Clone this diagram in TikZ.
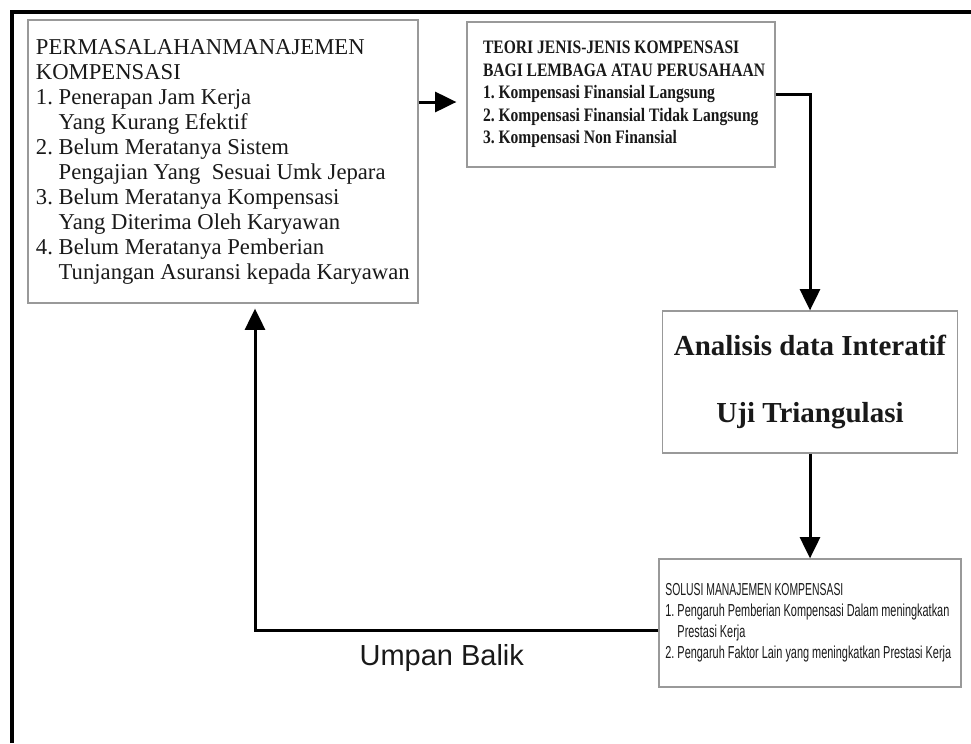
\documentclass[tikz,border=0pt]{standalone}
\usepackage{fontspec}
\setmainfont{Liberation Serif}
\newfontfamily\teorifont[FakeStretch=0.82]{Liberation Serif}
\newfontfamily\solusifont[FakeStretch=0.63]{Liberation Sans}
\newfontfamily\soluscaps[FakeStretch=0.6]{Liberation Sans}
\newfontfamily\balikfont{Liberation Sans}
\usetikzlibrary{calc}
\usetikzlibrary{arrows.meta, positioning}
\frenchspacing

\begin{document}
\begin{tikzpicture}[
  x=0.75pt, y=-0.75pt,
  box/.style={draw=black!40, line width=0.9pt, text=black!90, inner ysep=0pt},
  probbox/.style={box, align=flush left, text width=280.5pt, inner xsep=6pt,
                  minimum width=292.5pt, minimum height=212.25pt,
                  font=\fontsize{17}{18.75}\selectfont},
  teoribox/.style={box, align=flush left, text width=226pt, inner xsep=2.5pt,
                   minimum width=231pt, minimum height=108.75pt,
                   font=\teorifont\bfseries\fontsize{14.25}{16.9}\selectfont},
  anabox/.style={box, align=center, minimum width=221.25pt,
                 minimum height=106.5pt,
                 font=\bfseries\fontsize{21.75}{26}\selectfont},
  solbox/.style={box, align=flush left, text width=217pt, inner xsep=4.75pt,
                 minimum width=226.5pt, minimum height=96pt,
                 font=\solusifont\fontsize{13}{15.75}\selectfont},
  arr/.style={-{Triangle[length=16pt, width=15pt]}, line width=2.25pt},
  fblabel/.style={below, inner sep=9.5pt, text=black!90,
                  font=\balikfont\fontsize{21.75}{26}\selectfont}
]
\useasboundingbox (0,0) rectangle (971,743);

%% ---------- frame ----------
\draw[line width=3pt] (12,743) -- (12,12) -- (971,12);

%% ---------- top row ----------
\node[probbox] (perm) at (223,161.5) {PERMASALAHANMANAJEMEN\\
  KOMPENSASI\\
  1. Penerapan Jam Kerja\\
  \phantom{1. }Yang Kurang Efektif\\
  2. Belum Meratanya Sistem\\
  \phantom{1. }Pengajian Yang\ \ Sesuai Umk Jepara\\
  3. Belum Meratanya Kompensasi\\
  \phantom{1. }Yang Diterima Oleh Karyawan\\
  4. Belum Meratanya Pemberian\\
  \phantom{1. }Tunjangan Asuransi kepada Karyawan};
\node[teoribox] (teori) at (621,94.5) {\leftskip=9.5pt\relax
  TEORI JENIS-JENIS KOMPENSASI\\
  BAGI LEMBAGA ATAU PERUSAHAAN\\
  1. Kompensasi Finansial Langsung\\
  2. Kompensasi Finansial Tidak Langsung\\
  3. Kompensasi Non Finansial\par};

%% ---------- right column ----------
\node[anabox] (analisis) at (810,382)
  {Analisis data Interatif\\[24pt] Uji Triangulasi};
\node[solbox] (solusi) at (810,623) {{\soluscaps SOLUSI MANAJEMEN KOMPENSASI}\\
  1. Pengaruh Pemberian Kompensasi Dalam meningkatkan\\
  \phantom{1. }Prestasi Kerja\\
  2. Pengaruh Faktor Lain yang meningkatkan Prestasi Kerja};

%% ---------- flow ----------
\coordinate (a1) at ($(teori.west)+(-10,7.5)$);
\coordinate (fb) at (255,630);
\draw[arr] (perm.east |- a1) -- (a1);
\draw[arr] (teori.east) -| (analisis.north);
\draw[arr] (analisis.south) -- (solusi.north);
\draw[arr, shorten >=3.75pt] (solusi.west |- fb) --
  node[fblabel, pos=0.537] {Umpan Balik} (fb) -- (fb |- perm.south);
\end{tikzpicture}
\end{document}
